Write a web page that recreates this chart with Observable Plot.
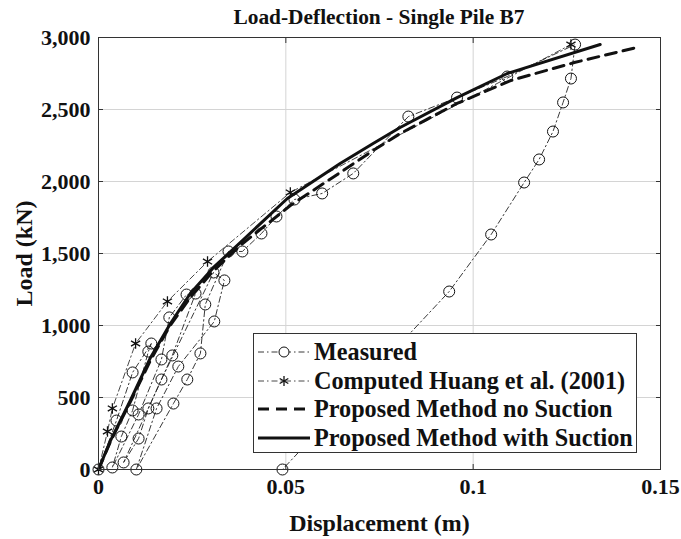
<!DOCTYPE html>
<html>
<head>
<meta charset="utf-8">
<script src="https://cdn.jsdelivr.net/npm/d3@7"></script>
<script src="https://cdn.jsdelivr.net/npm/@observablehq/plot@0.6"></script>
<style>
  body { margin: 0; background: #fff; }
  #wrap { position: relative; width: 681px; height: 539px; font-family: "Liberation Serif", "Times New Roman", serif; color: #111; }
  #title { position: absolute; left: 98px; width: 562px; top: 4px; text-align: center; font-weight: bold; font-size: 21.4px; line-height: 26px; }
  #legend { position: absolute; left: 253px; top: 333px; width: 384px; height: 120px; border: 1px solid #333; background: #fff; padding-top: 4px; box-sizing: border-box; }
  .row { display: flex; align-items: center; height: 28.6px; }
  .row svg { margin-left: 4px; margin-right: 4px; flex: none; }
  .row span { font-weight: bold; font-size: 24.2px; white-space: nowrap; }
  svg [aria-label="x-axis label"] text, svg [aria-label="y-axis label"] text { font-size: 24px; font-weight: bold; }
</style>
</head>
<body>
<div id="wrap">
  <div id="title">Load-Deflection - Single Pile B7</div>
  <div id="chart"></div>
  <div id="legend"></div>
</div>
<script>
// ---- data (displacement in m, load in kN) ----
const measuredX = [0, 0.0048, 0.0091, 0.0141, 0.0133, 0.0091, 0.0061, 0.0037,
  0.0107, 0.0168, 0.0189, 0.0235, 0.0259, 0.0197, 0.0133, 0.0107, 0.0067,
  0.0168, 0.0307, 0.0336, 0.0309, 0.0213, 0.0155, 0.0101,
  0.0200, 0.0237, 0.0272, 0.0285, 0.0347, 0.0384, 0.0435, 0.0475, 0.0523, 0.0597, 0.0680, 0.0827, 0.0957, 0.1091, 0.1272,
  0.1261, 0.1240, 0.1213, 0.1176, 0.1136, 0.1048, 0.0936, 0.0491];
const measuredY = [0, 340, 674, 875, 819, 410, 229, 14,
  382, 764, 1056, 1215, 1222, 792, 424, 215, 49,
  625, 1368, 1313, 1028, 715, 424, 0,
  458, 625, 806, 1146, 1514, 1514, 1639, 1757, 1875, 1917, 2056, 2451, 2583, 2729, 2951,
  2715, 2549, 2347, 2153, 1993, 1632, 1236, 0];

const huangX = [0, 0.0024, 0.0037, 0.0099, 0.0184, 0.0291, 0.0512, 0.1261];
const huangY = [0, 264, 424, 875, 1167, 1444, 1924, 2951];

const noSuctionX = [0, 0.0032, 0.0085, 0.0140, 0.0190, 0.0245, 0.0305, 0.0380, 0.0512, 0.0645, 0.0733, 0.0805, 0.0957, 0.1100, 0.1270, 0.1437];
const noSuctionY = [0, 195, 470, 765, 995, 1195, 1375, 1560, 1833, 2062, 2215, 2333, 2542, 2701, 2826, 2931];

const withSuctionX = [0, 0.0032, 0.0085, 0.0139, 0.0192, 0.0245, 0.0307, 0.0384, 0.0504, 0.0645, 0.0733, 0.0805, 0.0957, 0.1091, 0.1339];
const withSuctionY = [0, 201, 479, 778, 1014, 1222, 1403, 1590, 1882, 2125, 2264, 2375, 2583, 2750, 2951];

const xTicks = [0, 0.05, 0.1, 0.15];
const xTickLabels = ["0", "0.05", "0.1", "0.15"];
const yTicks = [0, 500, 1000, 1500, 2000, 2500, 3000];
const yTickLabels = ["0", "500", "1,000", "1,500", "2,000", "2,500", "3,000"];

const seriesNames = ["Measured", "Computed Huang et al. (2001)", "Proposed Method no Suction", "Proposed Method with Suction"];

// ---- build tables ----
const zip = (xs, ys) => xs.map((x, i) => ({x, y: ys[i]}));
const measured = zip(measuredX, measuredY);
const huang = zip(huangX, huangY);
const noSuction = zip(noSuctionX, noSuctionY);
const withSuction = zip(withSuctionX, withSuctionY);

const ink = "#111";
const dashDot = "6,3,1.5,3";

const chart = Plot.plot({
  width: 681,
  height: 539,
  marginLeft: 98,
  marginRight: 21,
  marginTop: 37,
  marginBottom: 70,
  x: {domain: [0, 0.15]},
  y: {domain: [0, 3000]},
  style: {fontFamily: '"Liberation Serif", "Times New Roman", serif', color: ink, background: "white", overflow: "visible"},
  marks: [
    Plot.gridX(xTicks, {stroke: "#d4d4d4", strokeOpacity: 1}),
    Plot.gridY(yTicks, {stroke: "#d4d4d4", strokeOpacity: 1}),
    Plot.line(measured, {x: "x", y: "y", stroke: "#222", strokeWidth: 0.9, strokeDasharray: dashDot}),
    Plot.dot(measured, {x: "x", y: "y", r: 5.5, stroke: ink, strokeWidth: 1, fill: "none"}),
    Plot.line(huang, {x: "x", y: "y", stroke: "#333", strokeWidth: 0.9, strokeDasharray: dashDot}),
    Plot.dot(huang, {x: "x", y: "y", symbol: "asterisk", r: 5, stroke: ink, strokeWidth: 1.3}),
    Plot.line(noSuction, {x: "x", y: "y", stroke: ink, strokeWidth: 3, strokeDasharray: "11,7"}),
    Plot.line(withSuction, {x: "x", y: "y", stroke: ink, strokeWidth: 3}),
    Plot.frame({stroke: "#333"}),
    // inward tick marks on all four sides
    Plot.axisX(xTicks, {anchor: "bottom", tickSize: -5, tickFormat: () => "", label: null, stroke: "#333"}),
    Plot.axisX(xTicks, {anchor: "top", tickSize: -5, tickFormat: () => "", label: null, stroke: "#333"}),
    Plot.axisY(yTicks, {anchor: "left", tickSize: -5, tickFormat: () => "", label: null, stroke: "#333"}),
    Plot.axisY(yTicks, {anchor: "right", tickSize: -5, tickFormat: () => "", label: null, stroke: "#333"}),
    // tick labels and axis titles
    Plot.axisX(xTicks, {anchor: "bottom", tickSize: 0, tickPadding: 9, tickFormat: d => xTickLabels[xTicks.indexOf(d)],
      fontSize: 22, fontWeight: "bold", label: "Displacement (m)", labelAnchor: "center", labelArrow: "none", labelOffset: 61}),
    Plot.axisY(yTicks, {anchor: "left", tickSize: 0, tickPadding: 8, tickFormat: d => yTickLabels[yTicks.indexOf(d)],
      fontSize: 22, fontWeight: "bold", label: "Load (kN)", labelAnchor: "center", labelArrow: "none", labelOffset: 84})
  ]
});
document.getElementById("chart").appendChild(chart);

// ---- legend ----
const samples = [
  `<line x1="0" y1="10" x2="52" y2="10" stroke="#222" stroke-width="0.9" stroke-dasharray="${dashDot}"/><circle cx="26" cy="10" r="5" fill="#fff" stroke="${ink}" stroke-width="1"/>`,
  `<line x1="0" y1="10" x2="52" y2="10" stroke="#333" stroke-width="0.9" stroke-dasharray="${dashDot}"/>` +
    `<g stroke="${ink}" stroke-width="1.3"><line x1="26" y1="5" x2="26" y2="15"/><line x1="21.7" y1="7.5" x2="30.3" y2="12.5"/><line x1="21.7" y1="12.5" x2="30.3" y2="7.5"/></g>`,
  `<line x1="0" y1="10" x2="52" y2="10" stroke="${ink}" stroke-width="3" stroke-dasharray="11,7"/>`,
  `<line x1="0" y1="10" x2="52" y2="10" stroke="${ink}" stroke-width="3"/>`
];
document.getElementById("legend").innerHTML = seriesNames.map((name, i) =>
  `<div class="row"><svg width="52" height="20">${samples[i]}</svg><span>${name}</span></div>`).join("");
</script>
</body>
</html>
